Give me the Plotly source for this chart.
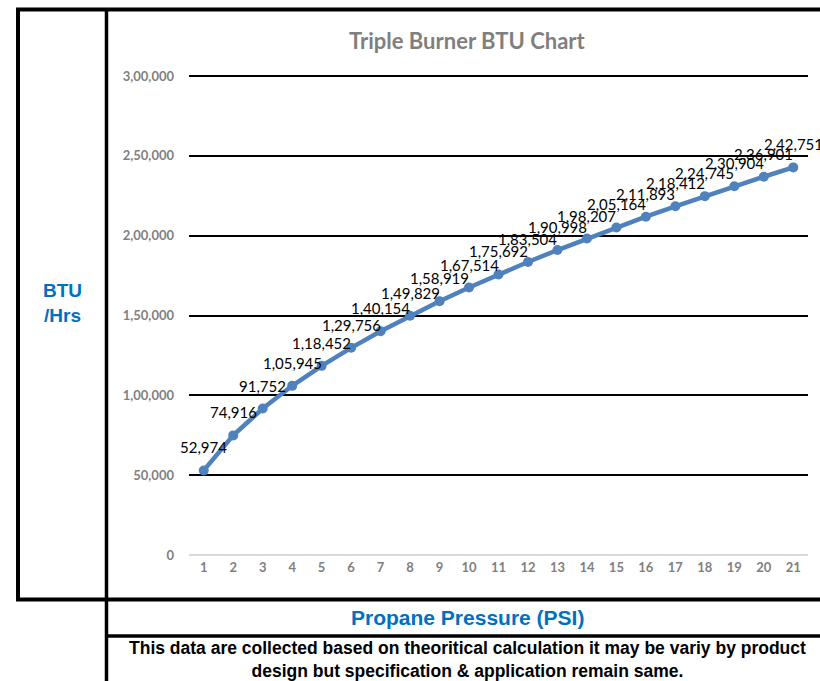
import plotly.graph_objects as go

# ---- data ----
pressure_psi = list(range(1, 22))
btu_per_hr = [52974, 74916, 91752, 105945, 118452, 129756, 140154, 149829, 158919,
              167514, 175692, 183504, 190998, 198207, 205164, 211893, 218412, 224745,
              230904, 236901, 242751]
btu_labels = ["52,974", "74,916", "91,752", "1,05,945", "1,18,452", "1,29,756", "1,40,154",
              "1,49,829", "1,58,919", "1,67,514", "1,75,692", "1,83,504", "1,90,998",
              "1,98,207", "2,05,164", "2,11,893", "2,18,412", "2,24,745", "2,30,904",
              "2,36,901", "2,42,751"]
y_tick_vals = [0, 50000, 100000, 150000, 200000, 250000, 300000]
y_tick_text = ["0", "50,000", "1,00,000", "1,50,000", "2,00,000", "2,50,000", "3,00,000"]

title_text = "Triple Burner BTU Chart"
y_title = "BTU<br>/Hrs"
x_title = "Propane Pressure (PSI)"
footer = ("This data are collected based on theoritical calculation it may be variy by product<br>"
          "design but specification & application remain same.")

# ---- layout geometry ----
W, H = 820, 681
L, R, T, B = 189, 12, 73, 123
pw, ph = W - L - R, H - T - B
upp = 300000 / 479.0  # units per pixel
yr = [-3 * upp, 300000 + 3 * upp]


def px(x):
    return (x - L) / pw


def py(y):
    return (H - B - y) / ph


BLUE = "#4f81bd"
fig = go.Figure()
fig.add_trace(go.Scatter(
    x=pressure_psi, y=btu_per_hr, mode="lines+markers",
    line=dict(color=BLUE, width=4.5),
    marker=dict(color=BLUE, size=10),
    cliponaxis=False, hoverinfo="x+y", showlegend=False,
))

annotations = []
for xv, yv, lab in zip(pressure_psi, btu_per_hr, btu_labels):
    annotations.append(dict(x=xv, y=yv, xref="x", yref="y", text=lab, showarrow=False,
                            xanchor="center", yanchor="middle",
                            yshift=23, font=dict(family="Lato", size=15, color="#000000")))


def label(x, y, text, size, color, family, **kw):
    annotations.append(dict(x=px(x), y=py(y), xref="paper", yref="paper", text=text,
                            showarrow=False, xanchor="center", yanchor="middle",
                            font=dict(family=family, size=size, color=color, weight="bold"), **kw))


label(467, 40, title_text, 22, "#7f7f7f", "Lato")
label(62, 303, y_title, 19, "#0070c0", "Liberation Sans")
label(467, 617, x_title, 21, "#0070c0", "Liberation Sans")
label(467, 659.5, footer, 17.5, "#000000", "Liberation Sans", align="center")

shapes = []


def line(x0, y0, x1, y1, w):
    shapes.append(dict(type="line", xref="paper", yref="paper",
                       x0=px(x0), y0=py(y0), x1=px(x1), y1=py(y1),
                       line=dict(color="#000000", width=w)))


line(16, 9.5, 820, 9.5, 4)       # top border
line(18, 8, 18, 601, 4)          # left border
line(106.5, 8, 106.5, 681, 3.5)  # divider
line(16, 599.5, 820, 599.5, 4)   # bottom of chart
line(106, 636, 820, 636, 3.5)    # under x title

fig.update_layout(
    width=W, height=H, autosize=False,
    margin=dict(l=L, r=R, t=T, b=B, pad=0),
    paper_bgcolor="#ffffff", plot_bgcolor="#ffffff",
    annotations=annotations, shapes=shapes,
    xaxis=dict(range=[0.5, 21.5], tickvals=pressure_psi, ticktext=[str(v) for v in pressure_psi],
               showgrid=False, zeroline=False, showline=False, ticks="", ticklen=0,
               tickfont=dict(family="Lato", size=13, color="#7f7f7f", weight="bold")),
    yaxis=dict(range=yr, tickvals=y_tick_vals, ticktext=y_tick_text,
               showgrid=True, gridcolor="#000000", gridwidth=1.5,
               zeroline=True, zerolinecolor="#d9d9d9", zerolinewidth=1.5,
               showline=False, ticks="", ticklabelstandoff=14,
               tickfont=dict(family="Lato", size=13, color="#7f7f7f", weight="bold")),
)

fig.write_html("out.html", config={"displayModeBar": False},
               post_script="document.body.style.margin='0';")
